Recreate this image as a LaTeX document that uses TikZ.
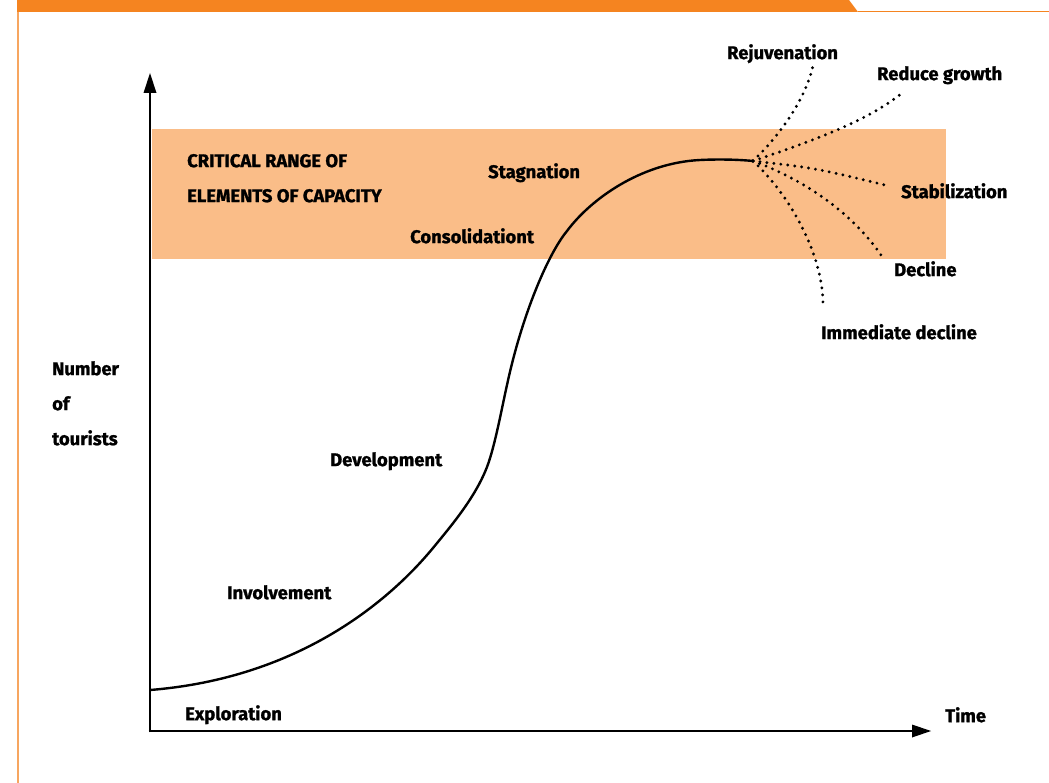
\documentclass[tikz,border=0pt]{standalone}
\usepackage{fontspec}
\setmainfont{Fira Sans}[BoldFeatures={FakeBold=1.2}]
\definecolor{barorange}{RGB}{245,132,32}
\definecolor{lineorange}{RGB}{247,166,96}
\definecolor{bandorange}{RGB}{250,189,136}
\begin{document}
\begin{tikzpicture}[x=1pt,y=-1pt,
  lbl/.style={font=\fontsize{18.4}{22}\selectfont\bfseries, inner sep=0pt, anchor=mid west, yshift=-4.5pt},
  curve/.style={line width=2.4pt},
  fan/.style={line width=3.2pt, dash pattern=on 0pt off 7pt, line cap=round}]
\useasboundingbox (0,0) rectangle (1049,783);
\fill[white] (0,0) rectangle (1049,783);
% frame decoration
\fill[barorange] (17,0) -- (849,0) -- (858,12) -- (17,12) -- cycle;
\draw[lineorange, line width=1.6pt] (18,12) -- (18,783);
\draw[barorange, line width=1.4pt] (858,11.3) -- (1049,11.3);
% critical band
\fill[bandorange] (152,129) rectangle (946,259);
\draw[white, line width=1pt, dash pattern=on 1.2pt off 2pt] (152,129) -- (946,129);
% axes
\coordinate (O) at (150,731);
\coordinate (ytop) at (150,73);
\coordinate (xend) at (931,731);
\draw[line width=2.6pt] (150,732.3) -- (150,85);
\fill (ytop) -- (156.5,93) -- (143.5,93) -- cycle;
\draw[line width=2.6pt] (148.7,731) -- (918,731);
\fill (xend) -- (912,724.5) -- (912,737.5) -- cycle;
% main curve
\coordinate (start) at (150,690);
\coordinate (peak) at (753,161);
\draw[curve] (start)
  .. controls (300,678) and (390,600) .. (433,548)
  .. controls (451,526) and (475,498) .. (487,467)
  .. controls (495,446) and (502,407) .. (507,385)
  .. controls (522,315) and (548,254) .. (567,231)
  .. controls (590,200) and (640,163) .. (700,160)
  .. controls (718,159.1) and (738,159.5) .. (peak);
% fan
\coordinate (rej) at (813,66);
\coordinate (red) at (901,94);
\coordinate (sta) at (889,186);
\coordinate (dec) at (881,255);
\coordinate (imm) at (823,304);
\draw[fan] (peak) .. controls (780,135) and (805,100) .. (rej);
\draw[fan] (peak) .. controls (815,140) and (865,122) .. (red);
\draw[fan] (peak) .. controls (815,168) .. (sta);
\draw[fan] (peak) .. controls (800,178) and (850,210) .. (dec);
\draw[fan] (peak) .. controls (790,195) and (823,255) .. (imm);
% labels
\node[lbl] (tRej) at (727,52) {Rejuvenation};
\node[lbl] (tRed) at (877,73) {Reduce growth};
\node[lbl] (tSta) at (901,191) {Stabilization};
\node[lbl] (tDec) at (894,269) {Decline};
\node[lbl] (tImm) at (821,332) {Immediate decline};
\node[lbl] (tCrit1) at (187,160) {CRITICAL RANGE OF};
\node[lbl] (tCrit2) at (187,195) {ELEMENTS OF CAPACITY};
\node[lbl] (tStag) at (488,171) {Stagnation};
\node[lbl] (tCons) at (410,236) {Consolidationt};
\node[lbl] (tNum) at (52,368) {Number};
\node[lbl] (tOf) at (52,403) {of};
\node[lbl] (tTour) at (52,438) {tourists};
\node[lbl] (tDev) at (330,459) {Development};
\node[lbl] (tInv) at (227,592) {Involvement};
\node[lbl] (tExp) at (185,713) {Exploration};
\node[lbl] (tTime) at (945,715) {Time};
\end{tikzpicture}
\end{document}
